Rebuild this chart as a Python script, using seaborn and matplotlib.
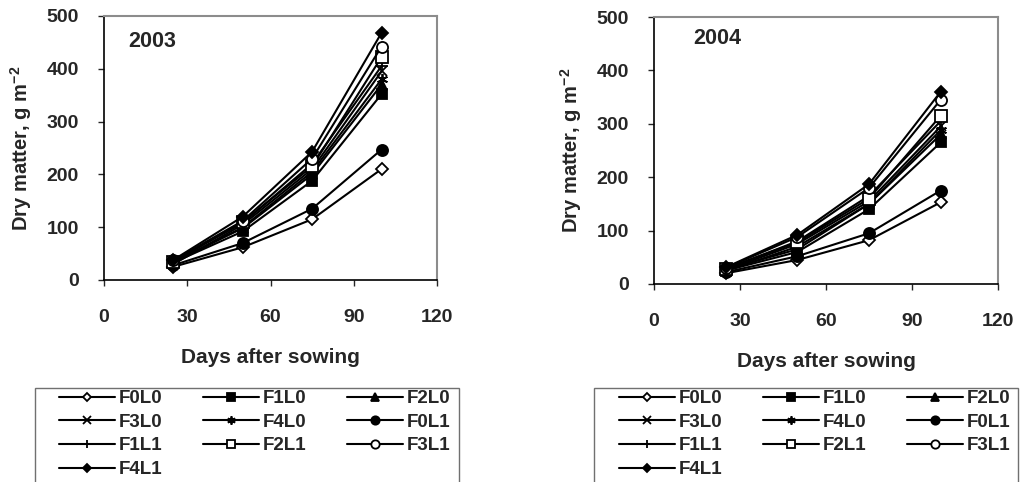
import matplotlib
matplotlib.use("Agg")
import matplotlib.pyplot as plt
from matplotlib.patches import Rectangle
import seaborn as sns

# data
days = [25, 50, 75, 100]
treatments = ["F0L0", "F1L0", "F2L0", "F3L0", "F4L0",
              "F0L1", "F1L1", "F2L1", "F3L1", "F4L1"]
dm_2003 = [
    [25, 62, 115, 210],
    [33, 92, 188, 352],
    [35, 98, 200, 370],
    [30, 105, 210, 395],
    [32, 100, 205, 380],
    [28, 70, 135, 247],
    [36, 108, 220, 405],
    [34, 110, 215, 422],
    [37, 112, 230, 442],
    [38, 120, 243, 468],
]
dm_2004 = [
    [20, 45, 82, 153],
    [25, 60, 140, 265],
    [27, 65, 150, 280],
    [26, 75, 155, 295],
    [24, 70, 150, 288],
    [22, 52, 95, 175],
    [28, 80, 165, 305],
    [29, 78, 160, 315],
    [30, 88, 180, 345],
    [31, 92, 187, 360],
]
x_ticks = [0, 30, 60, 90, 120]
y_ticks = [0, 100, 200, 300, 400, 500]

# marker style per treatment: (marker, facecolor, size)
styles = {
    "F0L0": ("D", "white", 6),
    "F1L0": ("s", "black", 7),
    "F2L0": ("^", "black", 7),
    "F3L0": ("x", "black", 7),
    "F4L0": ((6, 2, 0), "black", 8),
    "F0L1": ("o", "black", 8),
    "F1L1": ("+", "black", 8),
    "F2L1": ("s", "white", 8),
    "F3L1": ("o", "white", 8),
    "F4L1": ("D", "black", 6),
}

sns.set_style("white")
plt.rcParams["font.family"] = ["Liberation Sans", "DejaVu Sans"]
plt.rcParams["font.weight"] = "bold"
plt.rcParams["mathtext.fontset"] = "custom"
plt.rcParams["mathtext.rm"] = "Liberation Sans:bold"
plt.rcParams["mathtext.bf"] = "Liberation Sans:bold"

W, H = 1025, 482
fig = plt.figure(figsize=(W / 100, H / 100), dpi=100)
ax1 = fig.add_axes([104 / W, 1 - 280 / H, 333 / W, 264 / H])
ax2 = fig.add_axes([654 / W, 1 - 284 / H, 344 / W, 267 / H])


def draw_panel(ax, values, year, label_pos):
    handles = []
    for name, vals in zip(treatments, values):
        m, fc, ms = styles[name]
        sns.lineplot(x=days, y=vals, ax=ax, color="black", lw=1.5,
                     marker=m, mfc=fc, mec="black", ms=ms, mew=1.3,
                     label=name, legend=False)
        handles.append(ax.lines[-1])
    ax.set_xlim(0, 120)
    ax.set_ylim(0, 500)
    ax.set_xticks(x_ticks)
    ax.set_xticklabels([str(v) for v in x_ticks], fontsize=14,
                       fontweight="bold")
    ax.set_yticks(y_ticks)
    ax.set_yticklabels([str(v) for v in y_ticks], fontsize=14,
                       fontweight="bold")
    ax.tick_params(axis="x", direction="out", length=4, width=1,
                   pad=17, bottom=True)
    ax.tick_params(axis="y", direction="out", length=4, width=1,
                   pad=14, left=True)
    ax.set_xlabel("Days after sowing", fontsize=15, fontweight="bold",
                  labelpad=16)
    ax.set_ylabel(r"Dry matter, g m$^{-2}$", fontsize=14.5,
                  fontweight="bold", labelpad=9)
    for side in ["left", "bottom"]:
        ax.spines[side].set_color("black")
        ax.spines[side].set_linewidth(1.2)
    for side in ["top", "right"]:
        ax.spines[side].set_color("#8c8c8c")
        ax.spines[side].set_linewidth(1.5)
    ax.text(label_pos[0], label_pos[1], year, transform=ax.transAxes,
            fontsize=15.5, fontweight="bold", va="center", ha="left")
    return handles


h1 = draw_panel(ax1, dm_2003, "2003", (0.072, 0.905))
h2 = draw_panel(ax2, dm_2004, "2004", (0.113, 0.918))

# legend fills column-wise, so reorder to read row-wise like the original
order = [0, 3, 6, 9, 1, 4, 7, 2, 5, 8]
for handles, x_handle, x_frame in [(h1, 59, 35), (h2, 619, 594)]:
    fig.legend([handles[i] for i in order],
               [treatments[i] for i in order],
               loc="upper left", bbox_to_anchor=(x_handle / W, 1 - 390 / H),
               ncol=3, frameon=False, markerscale=0.75,
               prop={"size": 13.5, "weight": "bold"},
               handlelength=3.0, handletextpad=0.2,
               columnspacing=2.15, labelspacing=0.35,
               borderpad=0, borderaxespad=0)
    # frame drawn by hand: wide side padding, runs off the bottom edge
    fig.patches.append(Rectangle((x_frame / W, 1 - 500 / H), 424 / W,
                                 112 / H, transform=fig.transFigure,
                                 fill=False, edgecolor="#707070", lw=1.0))

for ax in (ax1, ax2):
    for t in ax.get_xticklabels() + ax.get_yticklabels():
        t.set_fontweight("bold")

fig.savefig("out.png", dpi=100)
